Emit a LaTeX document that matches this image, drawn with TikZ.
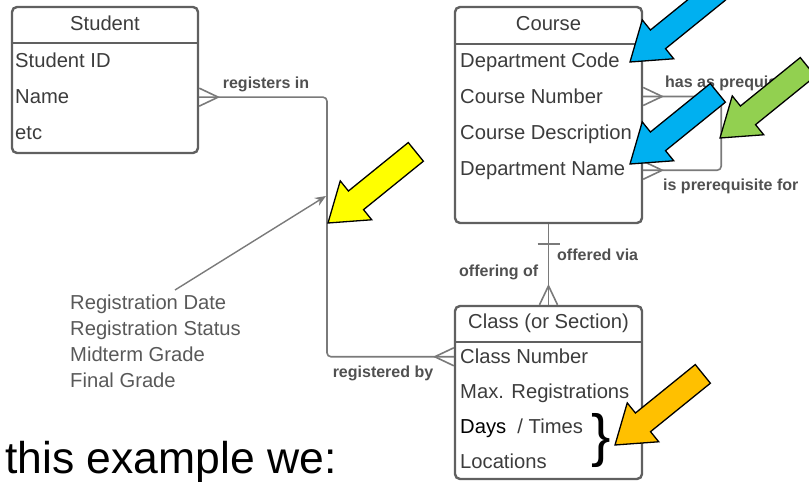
\documentclass[tikz,border=0pt]{standalone}
\usepackage{fontspec}
\setmainfont{Liberation Sans}
\usetikzlibrary{arrows.meta}
\definecolor{txtgray}{HTML}{3C3C3C}
\definecolor{boxgray}{HTML}{606060}
\definecolor{linegray}{HTML}{7A7A7A}
\definecolor{callblue}{HTML}{00B0F0}
\definecolor{callgreen}{HTML}{92D050}
\definecolor{callyellow}{HTML}{FFFF00}
\definecolor{callorange}{HTML}{FFC000}
\newcommand\rowsize{\fontsize{20.2}{22}\selectfont}
\newcommand\relsize{\fontsize{16}{18}\selectfont\bfseries}
% crow's foot: point on the box edge, direction pointing away from the box
\newcommand\crowfoot[2]{\draw[conn,shift={(#1)},rotate=#2] (0,9) -- (19,0) -- (0,-9);}
% big block arrow: tip, fill colour
\newcommand\bigarrow[2]{\draw[black,line width=1.3pt,fill=#2,shift={(#1)},rotate=39]
  (0,0) -- (36,25) -- (36,12) -- (113,12) -- (113,-12) -- (36,-12) -- (36,-25) -- cycle;}
\tikzset{
  entity/.style={draw=boxgray,line width=2.4pt,rounded corners=5pt,inner sep=0pt},
  divider/.style={draw=boxgray,line width=2pt},
  rowtxt/.style={font=\rowsize,text=txtgray,inner sep=0pt},
  rel/.style={font=\relsize,text=txtgray!90,inner sep=0pt},
  conn/.style={draw=linegray,line width=1.6pt},
}
\begin{document}
\begin{tikzpicture}[x=1pt,y=1pt]
\useasboundingbox (0,0) rectangle (809,482);
\clip (0,0) rectangle (809,482);
% entities
\node[entity,minimum width=186pt,minimum height=146pt] (stud) at (105,402) {};
\node[entity,minimum width=187pt,minimum height=216pt] (crs) at (548.5,367) {};
\node[entity,minimum width=187pt,minimum height=173pt] (cls) at (548.5,89.5) {};
\draw[divider] (stud.north west) ++(0,-37) -- ++(186,0);
\draw[divider] (crs.north west) ++(0,-38) -- ++(187,0);
\draw[divider] (cls.north west) ++(0,-37) -- ++(187,0);
\node[rowtxt,anchor=base] (studh) at (105,451) {Student};
\node[rowtxt,anchor=base] (crsh) at (548.5,451) {Course};
\node[rowtxt,anchor=base] (clsh) at (548.5,153) {Class (or Section)};
\foreach \t [count=\i] in {Student ID,Name,etc}
  \node[rowtxt,anchor=base west] (s\i) at (15,{414-36*(\i-1)}) {\t};
\foreach \t [count=\i] in {Department Code,Course Number,Course Description,Department Name}
  \node[rowtxt,anchor=base west] (c\i) at (460,{414-35.7*(\i-1)}) {\t};
\foreach \t [count=\i] in {Class Number,Max. Registrations,{{\color{black}Days}\ \ / Times},Locations}
  \node[rowtxt,anchor=base west] (k\i) at (460,{118-35*(\i-1)}) {\t};
% relationships
\coordinate (bend) at (327,0);
\draw[conn,rounded corners=4pt] (stud.east |- s2) -| (bend |- k1) -- (cls.west |- k1);
\crowfoot{stud.east |- s2}{0}
\crowfoot{cls.west |- k1}{180}
\draw[conn] (crs.south) -- (cls.north);
\draw[conn] (crs.south) ++(-11,-20) -- ++(22,0);
\crowfoot{cls.north}{90}
\draw[conn,rounded corners=4pt] (crs.east |- c2) -- ++(78,0) |- (crs.east |- c4);
\crowfoot{crs.east |- c2}{0}
\crowfoot{crs.east |- c4}{0}
\node[rel] (lregin) at (266,398) {registers in};
\node[rel] (lregby) at (383,109) {registered by};
\node[rel,anchor=west] (loffvia) at (557,227) {offered via};
\node[rel,anchor=west] (loffof) at (459,210) {offering of};
\node[rel,anchor=west] (lhas) at (665,399) {has as prequisite};
\node[rel,anchor=west] (lis) at (663,296) {is prerequisite for};
% attributes of the registration
\foreach \t [count=\i] in {Registration Date,Registration Status,Midterm Grade,Final Grade}
  \node[rowtxt,text=txtgray!85,anchor=base west] (r\i) at (70,{172-26*(\i-1)}) {\t};
\coordinate (ptail) at (175,192);
\coordinate (ptip) at (326,286);
\draw[draw=linegray,line width=1.4pt,-{Stealth[length=11pt,width=9pt]}] (ptail) -- (ptip);
% brace and caption
\node[font=\fontsize{58}{60}\selectfont,inner sep=0pt] (brace) at (601,41) {\}};
\node[font=\fontsize{44.5}{48}\selectfont,anchor=base west,inner sep=0pt] (intro) at (5,8) {this example we:};
% call-out arrows
\bigarrow{328,259}{callyellow}
\bigarrow{630,420}{callblue}
\bigarrow{630,318}{callblue}
\bigarrow{720,344}{callgreen}
\bigarrow{615,37}{callorange}
\end{tikzpicture}
\end{document}
